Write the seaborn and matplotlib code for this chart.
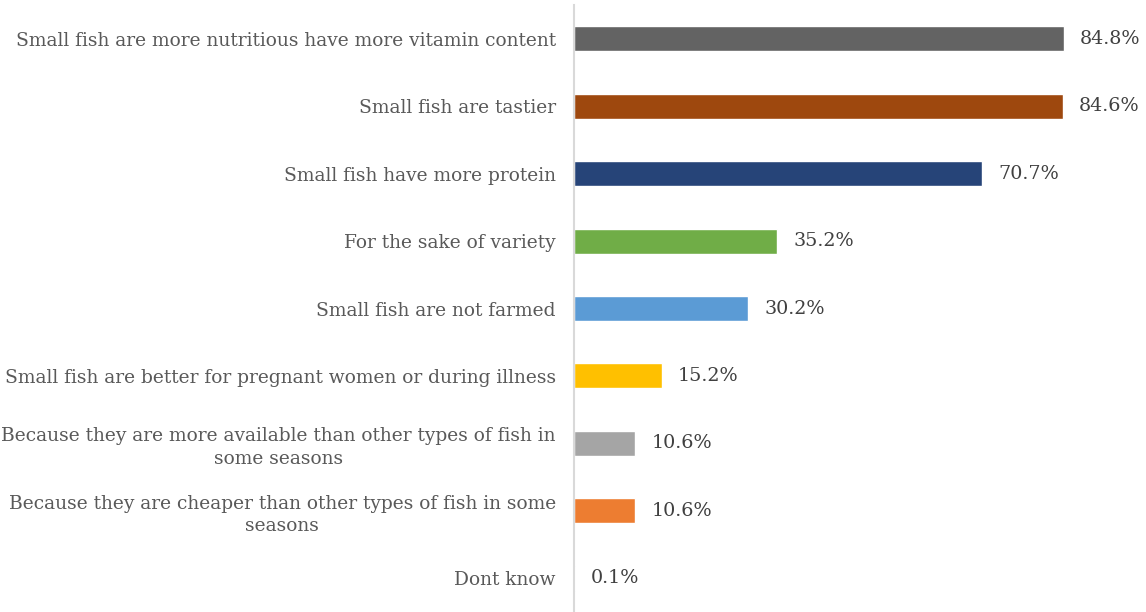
import matplotlib
matplotlib.use("Agg")
import matplotlib.pyplot as plt
import seaborn as sns
import pandas as pd

categories = [
    "Small fish are more nutritious have more vitamin content",
    "Small fish are tastier",
    "Small fish have more protein",
    "For the sake of variety",
    "Small fish are not farmed",
    "Small fish are better for pregnant women or during illness",
    "Because they are more available than other types of fish in\nsome seasons",
    "Because they are cheaper than other types of fish in some\nseasons",
    "Dont know",
]
values = [84.8, 84.6, 70.7, 35.2, 30.2, 15.2, 10.6, 10.6, 0.1]
colors = ["#636363", "#9E480E", "#264478", "#70AD47", "#5B9BD5",
          "#FFC000", "#A5A5A5", "#ED7D31", "#4472C4"]

sns.set_theme(style="white")
plt.rcParams["font.family"] = ["DejaVu Serif"]

df = pd.DataFrame({"reason": categories, "pct": values})

fig = plt.figure(figsize=(11.46, 6.12), dpi=100)
ax = fig.add_axes([574 / 1146, 0.0, (1120 - 574) / 1146, 607 / 612])

sns.barplot(data=df, y="reason", x="pct", hue="reason", palette=colors,
            order=categories, hue_order=categories, width=0.37,
            legend=False, orient="h", ax=ax, saturation=1)

ax.set_xlim(0, 94.5)
ax.set_ylim(len(categories) - 0.5, -0.5)
ax.set_xlabel("")
ax.set_ylabel("")
ax.set_xticks([])
for s in ["top", "right", "bottom"]:
    ax.spines[s].set_visible(False)
ax.spines["left"].set_color("#D9D9D9")
ax.spines["left"].set_linewidth(1.5)

ax.tick_params(axis="y", length=0, pad=13, labelsize=13.4, labelcolor="#595959")
for lab in ax.get_yticklabels():
    lab.set_horizontalalignment("right")
    lab.set_multialignment("center")
    lab.set_linespacing(1.3)

for i, v in enumerate(values):
    ax.annotate(f"{v:.1f}%", xy=(v, i), xytext=(11.5, 0), textcoords="offset points",
                ha="left", va="center", fontsize=13.8, color="#404040")

fig.savefig("out.png", dpi=100)
